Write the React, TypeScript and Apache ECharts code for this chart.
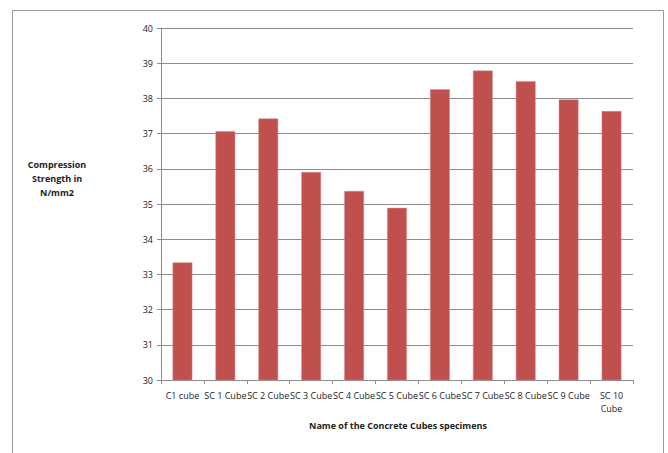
import React, { useEffect, useRef } from "react";
import * as echarts from "echarts";

const categories = [
  "C1 cube",
  "SC 1 Cube",
  "SC 2 Cube",
  "SC 3 Cube",
  "SC 4 Cube",
  "SC 5 Cube",
  "SC 6 Cube",
  "SC 7 Cube",
  "SC 8 Cube",
  "SC 9 Cube",
  "SC 10\nCube",
];
const strengths = [33.34, 37.07, 37.43, 35.91, 35.37, 34.89, 38.26, 38.79, 38.49, 37.97, 37.64];
const yMin = 30;
const yMax = 40;
const yStep = 1;

const FONT = "'Open Sans', 'Liberation Sans', sans-serif";

export default function App() {
  const ref = useRef<HTMLDivElement>(null);
  useEffect(() => {
    document.body.style.margin = "0";
    const chart = echarts.init(ref.current!, null, { renderer: "svg" });
    chart.setOption({
      animation: false,
      backgroundColor: "#ffffff",
      graphic: [
        {
          type: "rect",
          shape: { x: 12.5, y: 10.5, width: 651, height: 470 },
          style: { fill: "none", stroke: "#9a9a9a", lineWidth: 1 },
          silent: true,
        },
        {
          type: "text",
          x: 57,
          y: 178,
          style: {
            text: "Compression\nStrength in\nN/mm2",
            font: `bold 9px ${FONT}`,
            fill: "#222",
            align: "center",
            verticalAlign: "middle",
            lineHeight: 14,
          },
        },
        {
          type: "text",
          x: 398,
          y: 425,
          style: {
            text: "Name of the Concrete Cubes specimens",
            font: `bold 9px ${FONT}`,
            fill: "#222",
            align: "center",
            verticalAlign: "middle",
          },
        },
      ],
      grid: { left: 161, right: 35, top: 28, bottom: 73, containLabel: false },
      xAxis: {
        type: "category",
        data: categories,
        axisLine: { show: true, lineStyle: { color: "#8c8c8c", width: 1 } },
        axisTick: { show: true, alignWithLabel: false, length: 4, lineStyle: { color: "#8c8c8c" } },
        axisLabel: {
          interval: 0,
          color: "#222",
          fontSize: 9,
          fontFamily: FONT,
          margin: 9,
          lineHeight: 13,
        },
        splitLine: { show: false },
      },
      yAxis: {
        type: "value",
        min: yMin,
        max: yMax,
        interval: yStep,
        axisLine: { show: true, lineStyle: { color: "#8c8c8c", width: 1 } },
        axisTick: { show: true, length: 4, inside: false, lineStyle: { color: "#8c8c8c" } },
        axisLabel: { color: "#222", fontSize: 9, fontFamily: FONT, margin: 8 },
        splitLine: { show: true, lineStyle: { color: "#8c8c8c", width: 1 } },
      },
      series: [
        {
          type: "bar",
          data: strengths,
          barWidth: "46%",
          itemStyle: { color: "#C0504D", borderColor: "#d98c8a", borderWidth: 0.5 },
        },
      ],
    });
    return () => chart.dispose();
  }, []);
  return <div ref={ref} style={{ width: 668, height: 453 }} />;
}
